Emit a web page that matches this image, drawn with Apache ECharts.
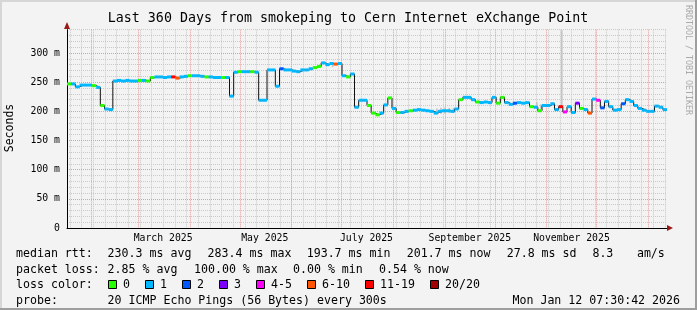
<!DOCTYPE html>
<html><head><meta charset="utf-8">
<script src="https://cdn.jsdelivr.net/npm/echarts@6/dist/echarts.min.js"></script>
<style>html,body{margin:0;padding:0;background:#f3f3f3}#c{width:697px;height:310px}</style>
</head><body><div id="c"></div><script>
// ---------------- data ----------------
// one median value every 2.5 days, 144 steps over 360 days
const medianValues = [
  247,247,242,245,245,245,244,241,210,204,203,252,
  253,252,253,252,252,253,253,252,258,259,259,258,
  259,259,257,259,260,261,261,261,260,259,259,258,
  258,258,258,226,267,268,268,268,268,267,219,219,
  271,271,243,273,271,271,269,268,271,271,273,275,
  277,283,280,282,281,282,261,259,264,207,219,219,
  210,197,194,197,211,223,205,198,198,200,201,202,
  203,202,201,200,197,200,201,201,200,204,220,224,
  224,220,216,215,216,215,224,214,224,215,212,214,
  215,214,215,208,207,201,210,210,213,203,208,199,
  208,198,214,205,203,197,221,219,206,217,208,202,
  203,213,220,217,210,205,202,200,200,209,207,203
];
// loss bucket index per step (0:"0" 1:"1" 2:"2" 3:"3" 4:"4-5" 5:"6-10" 6:"11-19" 7:"20/20")
const lossBucket = [
  0,1,1,1,1,1,0,1,0,1,1,1,
  1,1,1,1,1,0,1,0,0,1,1,1,
  1,6,5,1,1,0,1,1,1,0,1,1,
  1,0,1,1,1,0,1,1,0,1,1,1,
  1,1,1,2,1,1,1,1,1,1,1,0,
  0,1,1,1,5,1,1,0,1,1,1,1,
  0,0,0,1,1,0,1,0,1,1,0,1,
  1,1,1,1,1,1,1,1,1,1,0,1,
  1,1,0,1,1,1,1,0,0,1,1,2,
  1,1,1,0,1,0,1,1,1,1,6,4,
  1,1,3,0,1,5,1,4,2,1,1,1,
  1,2,1,1,1,1,1,1,1,1,1,1
];
const lossLabels = ['0','1','2','3','4-5','6-10','11-19','20/20'];
const lossColors = ['#26ff00','#00b8ff','#0059ff','#7e00ff','#ff00ff','#ff5500','#ff0000','#a00000'];
// smoke (ping spread) where visible
const smokeIndex = [63, 88, 89, 90, 91, 92, 112, 113, 118];
const smokeLow   = [276, 195, 196, 196, 197, 197, 204, 200, 208];
const smokeHigh  = [284, 205, 206, 207, 206, 206, 216, 212, 339];
// axes
const yTicks = [0, 50, 100, 150, 200, 250, 300];
const xTickLabels = ['March 2025', 'May 2025', 'July 2025', 'September 2025', 'November 2025'];
const xTickMonths = [[2025, 2], [2025, 4], [2025, 6], [2025, 8], [2025, 10]];
const titleText = 'Last 360 Days from smokeping to Cern Internet eXchange Point';
const legendRows = [
  [['median rtt:', 16], ['230.3 ms avg', 107.6], ['283.4 ms max', 207.6], ['193.7 ms min', 306.7], ['201.7 ms now', 406.7], ['27.8 ms sd', 506.7], ['8.3', 592.4], ['am/s', 636.9]],
  [['packet loss:', 16], ['2.85 % avg', 107.6], ['100.00 % max', 194], ['0.00 % min', 293], ['0.54 % now', 379]],
  [['loss color:', 16]],
  [['probe:', 16], ['20 ICMP Echo Pings (56 Bytes) every 300s', 107.6]]
];
const probeDate = 'Mon Jan 12 07:30:42 2026';

// ---------------- time helpers ----------------
const STEP_DAYS = 2.5, TOTAL_DAYS = 360;
const START_UTC = Date.UTC(2025, 0, 17, 6, 30, 42);
const TZ_H = 1;
function dayOffset(y, m, d) { return (Date.UTC(y, m, d) - TZ_H * 3600e3 - START_UTC) / 86400e3; }
const monthStarts = [];
for (let k = 1; k <= 12; k++) monthStarts.push(dayOffset(2025, k, 1));
const weekStarts = [];
for (let d = dayOffset(2025, 0, 19); d <= TOTAL_DAYS; d += 7) weekStarts.push(d);
const labelPos = xTickMonths.map(([y, m]) => dayOffset(y, m, 1) + 15);

const lineData = medianValues.map((v, i) => [i * STEP_DAYS, v]);
lineData.push([TOTAL_DAYS, medianValues[medianValues.length - 1]]);
const segData = medianValues.map((v, i) => [i * STEP_DAYS, v, lossBucket[i]]);
const smokeData = smokeIndex.map((idx, k) => [idx * STEP_DAYS, smokeLow[k], smokeHigh[k]]);

const MONO = '"DejaVu Sans Mono", "Liberation Mono", monospace';
const minorGrid = { show: true, lineStyle: { color: '#c9c9c9', width: 1, type: [1, 1] } };
const majorGrid = { show: true, lineStyle: { color: '#e99a9a', width: 1, type: [1, 1] } };

// ---------------- graphics (title, legend, frame) ----------------
const graphics = [];
graphics.push({ type: 'rect', shape: { x: 0, y: 0, width: 697, height: 2 }, style: { fill: '#d6d6d6' }, silent: true });
graphics.push({ type: 'rect', shape: { x: 0, y: 0, width: 2, height: 310 }, style: { fill: '#d6d6d6' }, silent: true });
graphics.push({ type: 'rect', shape: { x: 0, y: 308, width: 697, height: 2 }, style: { fill: '#9e9e9e' }, silent: true });
graphics.push({ type: 'rect', shape: { x: 695, y: 0, width: 2, height: 310 }, style: { fill: '#9e9e9e' }, silent: true });
graphics.push({ type: 'text', x: 348, y: 19, style: { text: titleText, font: '13.3px ' + MONO, fill: '#000', align: 'center', verticalAlign: 'middle' } });
graphics.push({ type: 'text', x: 10, y: 128, rotation: Math.PI / 2, style: { text: 'Seconds', font: '11.5px ' + MONO, fill: '#000', align: 'center', verticalAlign: 'middle' } });
graphics.push({ type: 'text', x: 688, y: 5, rotation: -Math.PI / 2, style: { text: 'RRDTOOL / TOBI OETIKER', font: '8.3px ' + MONO, fill: '#aaaaaa', align: 'left', verticalAlign: 'middle' } });
// axis arrows
graphics.push({ type: 'polygon', shape: { points: [[667, 225], [673, 228], [667, 231]] }, style: { fill: '#9a1a1a' }, z: 10 });
graphics.push({ type: 'polygon', shape: { points: [[64, 29], [67, 22], [70, 29]] }, style: { fill: '#9a1a1a' }, z: 10 });
const rowY = [254, 269.5, 285, 300.5];
legendRows.forEach((row, r) => row.forEach(([t, x]) => {
  graphics.push({ type: 'text', x: x, y: rowY[r], style: { text: t, font: '11.6px ' + MONO, fill: '#000', align: 'left', verticalAlign: 'middle' } });
}));
graphics.push({ type: 'text', x: 680, y: rowY[3], style: { text: probeDate, font: '11.6px ' + MONO, fill: '#000', align: 'right', verticalAlign: 'middle' } });
let bx = 108;
lossLabels.forEach((lab, i) => {
  graphics.push({ type: 'rect', shape: { x: bx + 0.5, y: rowY[2] - 4.5, width: 8, height: 8 }, style: { fill: lossColors[i], stroke: '#000', lineWidth: 1 } });
  graphics.push({ type: 'text', x: bx + 15, y: rowY[2], style: { text: lab, font: '11.6px ' + MONO, fill: '#000', align: 'left', verticalAlign: 'middle' } });
  bx = bx + 15 + lab.length * 7 + 15;
});

// ---------------- chart ----------------
const chart = echarts.init(document.getElementById('c'), null, { renderer: 'canvas' });
chart.setOption({
  animation: false,
  backgroundColor: '#f3f3f3',
  grid: { left: 67, top: 29.67, width: 600, height: 198.33, containLabel: false },
  xAxis: [
    { type: 'value', min: 0, max: TOTAL_DAYS, z: 3,
      axisLine: { show: true, lineStyle: { color: '#000', width: 1 } },
      axisTick: { show: false, customValues: labelPos },
      splitLine: { show: false },
      axisLabel: { customValues: labelPos, margin: 5, color: '#000', fontFamily: MONO, fontSize: 9.8,
        formatter: v => { const i = labelPos.findIndex(p => Math.abs(p - v) < 1e-6); return i >= 0 ? xTickLabels[i] : ''; } } },
    { type: 'value', min: 0, max: TOTAL_DAYS, position: 'bottom', z: 1,
      axisLine: { show: false }, axisLabel: { show: false },
      axisTick: { show: false, customValues: weekStarts }, splitLine: minorGrid },
    { type: 'value', min: 0, max: TOTAL_DAYS, position: 'bottom', z: 2,
      axisLine: { show: false }, axisLabel: { show: false },
      axisTick: { show: false, customValues: monthStarts }, splitLine: majorGrid }
  ],
  yAxis: [
    { type: 'value', min: 0, max: 340, z: 3,
      axisLine: { show: true, lineStyle: { color: '#000', width: 1 } },
      axisTick: { show: false, customValues: yTicks },
      axisLabel: { customValues: yTicks, margin: 7, color: '#000', fontFamily: MONO, fontSize: 9.8,
        formatter: v => v === 0 ? '0' : v + ' m' },
      splitLine: majorGrid },
    { type: 'value', min: 0, max: 340, interval: 10, position: 'left', z: 1,
      axisLine: { show: false }, axisLabel: { show: false }, axisTick: { show: false },
      splitLine: minorGrid }
  ],
  graphic: graphics,
  series: [
    { type: 'custom', xAxisIndex: 0, yAxisIndex: 0, z: 4, silent: true,
      encode: { x: 0, y: [1, 2] }, data: smokeData,
      renderItem: (params, api) => {
        const a = api.coord([api.value(0) + STEP_DAYS * 0.55, api.value(2)]);
        const b = api.coord([api.value(0) + STEP_DAYS * 0.95, api.value(1)]);
        return { type: 'rect', shape: { x: a[0], y: a[1], width: b[0] - a[0], height: b[1] - a[1] }, style: { fill: '#c4c4c4' } };
      } },
    { type: 'line', xAxisIndex: 0, yAxisIndex: 0, z: 5, step: 'end', symbol: 'none', silent: true,
      data: lineData, lineStyle: { color: '#111', width: 1 } },
    { type: 'custom', xAxisIndex: 0, yAxisIndex: 0, z: 6, silent: true,
      encode: { x: 0, y: 1 }, data: segData,
      renderItem: (params, api) => {
        const v = api.value(1);
        const p0 = api.coord([api.value(0), v]);
        const p1 = api.coord([api.value(0) + STEP_DAYS, v]);
        return { type: 'rect', shape: { x: p0[0], y: p0[1] - 1.5, width: p1[0] - p0[0], height: 3 }, style: { fill: lossColors[api.value(2)] } };
      } }
  ]
});
</script></body></html>
